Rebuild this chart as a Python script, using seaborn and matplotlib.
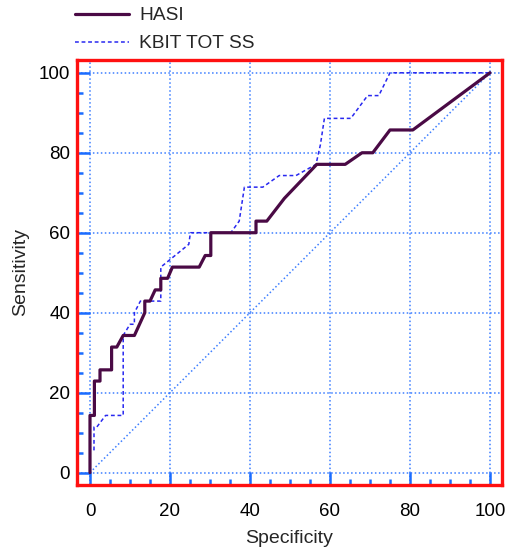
import pandas as pd
import seaborn as sns
import matplotlib.pyplot as plt
from matplotlib.ticker import MultipleLocator

# ROC curves
hasi_x = [0, 0, 1.1, 1.1, 2.5, 2.5, 5.4, 5.4, 6.7, 8.3, 11.1, 13.7, 13.7, 15.0, 16.3,
          17.7, 17.7, 19.4, 20.6, 27.3, 28.8, 30.2, 30.2, 41.5, 41.5, 44.2, 48.6,
          56.7, 63.8, 68.0, 70.7, 75.0, 80.7, 100]
hasi_y = [0, 14.3, 14.3, 22.9, 22.9, 25.7, 25.7, 31.4, 31.4, 34.3, 34.3, 40.0, 42.9, 42.9, 45.7,
          45.7, 48.6, 48.6, 51.4, 51.4, 54.3, 54.3, 60.0, 60.0, 62.9, 62.9, 68.6,
          77.1, 77.1, 80.0, 80.0, 85.7, 85.7, 100]

kbit_x = [0, 0, 1.0, 1.0, 1.7, 3.9, 8.3, 8.3, 10.0, 11.1, 11.1, 12.6, 17.7, 17.7, 24.7,
          25.1, 35.2, 37.3, 38.6, 43.2, 47.3, 51.5, 56.5, 57.6, 58.6, 65.2, 69.4, 72.2,
          75.0, 100]
kbit_y = [0, 5.7, 5.7, 11.4, 11.4, 14.3, 14.3, 34.3, 37.1, 37.1, 40.0, 42.9, 42.9, 51.4, 57.1,
          60.0, 60.0, 62.9, 71.4, 71.4, 74.3, 74.3, 77.1, 82.0, 88.6, 88.6, 94.3, 94.3,
          100, 100]

ref = [0, 100]

sns.set_style("white")
plt.rcParams['font.family'] = ['Liberation Sans', 'DejaVu Sans']

grid_blue = '#3d7fff'
tick_blue = '#1a6cff'
dots = (0, (1, 1.6))

fig = plt.figure(figsize=(5.11, 5.53), dpi=100)
ax = fig.add_axes([77 / 511, 1 - 485 / 553, (502 - 77) / 511, (485 - 60) / 553])

# diagonal reference
sns.lineplot(x=ref, y=ref, ax=ax, color=grid_blue, linestyle=dots, linewidth=1.1,
             sort=False, estimator=None, legend=False)
sns.lineplot(x=kbit_x, y=kbit_y, ax=ax, color='#2828f0', linestyle=(0, (2.5, 1.8)),
             linewidth=1.1, sort=False, estimator=None, label='KBIT TOT SS', zorder=3)
sns.lineplot(x=hasi_x, y=hasi_y, ax=ax, color='#4a0a45', linewidth=2.3,
             sort=False, estimator=None, label='HASI', zorder=4)

ax.set_xlim(-3.25, 103)
ax.set_ylim(-3.1, 103.2)

ax.xaxis.set_major_locator(MultipleLocator(20))
ax.xaxis.set_minor_locator(MultipleLocator(5))
ax.yaxis.set_major_locator(MultipleLocator(20))
ax.yaxis.set_minor_locator(MultipleLocator(5))
ax.tick_params(which='both', bottom=True, left=True, top=False, right=False)
ax.tick_params(which='major', direction='in', length=9.5, width=1.8, color=tick_blue,
               labelsize=13.5, labelcolor='black')
ax.tick_params(which='minor', direction='in', length=4.5, width=1.8, color=tick_blue)
ax.tick_params(axis='y', which='major', pad=5)
ax.tick_params(axis='x', which='major', pad=13)

ax.grid(True, which='major', color=grid_blue, linestyle=dots, linewidth=1.1)
ax.set_axisbelow(True)

for s in ax.spines.values():
    s.set_color('#ff1010')
    s.set_linewidth(2.4)

ax.set_xlabel('Specificity', fontsize=14, labelpad=7)
ax.set_ylabel('Sensitivity', fontsize=14, labelpad=7)

h, l = ax.get_legend_handles_labels()
ax.get_legend().remove()
order = [l.index('HASI'), l.index('KBIT TOT SS')]
fig.legend([h[i] for i in order], [l[i] for i in order], loc='upper left',
           bbox_to_anchor=(75 / 511, 1 - 7 / 553), frameon=False, fontsize=13.8,
           handlelength=2.8, handletextpad=0.55, borderpad=0, borderaxespad=0,
           labelspacing=0.55)

fig.savefig('out.png', dpi=100)
